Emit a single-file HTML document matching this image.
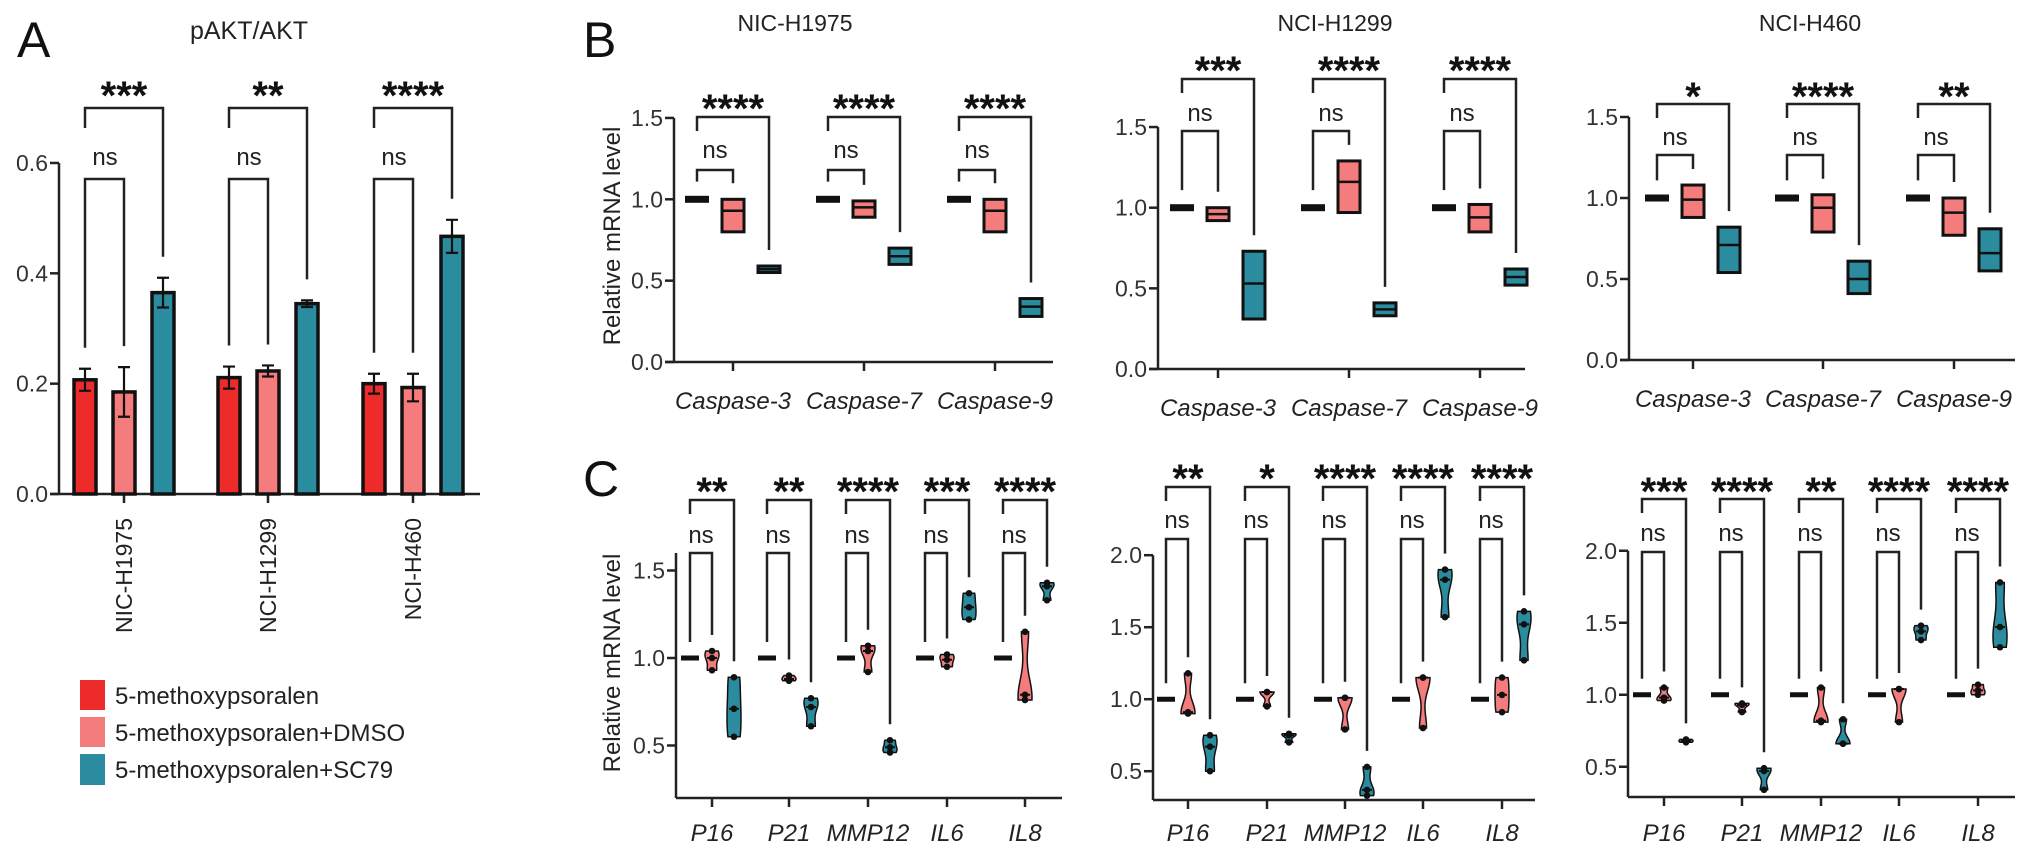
<!DOCTYPE html>
<html><head><meta charset="utf-8">
<style>
html,body{margin:0;padding:0;background:#fff;}
svg{display:block;font-family:"Liberation Sans",Arial,sans-serif;}
</style></head>
<body>
<svg id="fig" width="2032" height="854" viewBox="0 0 2032 854" xmlns="http://www.w3.org/2000/svg">
<rect x="0" y="0" width="2032" height="854" fill="#fff"/>
<text x="17" y="57" font-size="50" fill="#111">A</text>
<text x="583" y="57" font-size="50" fill="#111">B</text>
<text x="583" y="496" font-size="50" fill="#111">C</text>
<text x="249" y="39" font-size="25" fill="#222" text-anchor="middle">pAKT/AKT</text>
<g>
<rect x="80" y="680" width="25" height="30" fill="#ee2b2b"/>
<text x="115" y="704" font-size="24" fill="#222">5-methoxypsoralen</text>
<rect x="80" y="717" width="25" height="30" fill="#f47c7c"/>
<text x="115" y="741" font-size="24" fill="#222">5-methoxypsoralen+DMSO</text>
<rect x="80" y="754" width="25" height="31" fill="#2a8c9e"/>
<text x="115" y="778" font-size="24" fill="#222">5-methoxypsoralen+SC79</text>
</g>
</svg>
<script>
// ---------- Panel A data ----------
const aGroups = ['NIC-H1975','NCI-H1299','NCI-H460'];
const aMeans5MOP = [0.207, 0.211, 0.200];
const aMeansDMSO = [0.185, 0.223, 0.193];
const aMeansSC79 = [0.365, 0.345, 0.467];
const aErr5MOP = [0.020, 0.020, 0.018];
const aErrDMSO = [0.045, 0.010, 0.025];
const aErrSC79 = [0.027, 0.006, 0.030];
const aSig = ['***','**','****'];
const aTicks = [0.0, 0.2, 0.4, 0.6];
const aTickLabels = ['0.0','0.2','0.4','0.6'];

// ---------- Panel B data (min, mean, max) ----------
const bCats = ['Caspase-3','Caspase-7','Caspase-9'];
const bTicks = [0.0, 0.5, 1.0, 1.5];
const bTickLabels = ['0.0','0.5','1.0','1.5'];
const b1Ctrl = [[0.99,1.0,1.01],[0.99,1.0,1.01],[0.99,1.0,1.01]];
const b1DMSO = [[0.80,0.93,1.00],[0.89,0.95,0.99],[0.80,0.93,1.00]];
const b1SC79 = [[0.55,0.57,0.59],[0.60,0.65,0.70],[0.28,0.34,0.39]];
const b1Sig = ['****','****','****'];
const b2Ctrl = [[0.99,1.0,1.01],[0.99,1.0,1.01],[0.99,1.0,1.01]];
const b2DMSO = [[0.92,0.96,1.00],[0.97,1.16,1.29],[0.85,0.94,1.02]];
const b2SC79 = [[0.31,0.53,0.73],[0.33,0.37,0.41],[0.52,0.57,0.62]];
const b2Sig = ['***','****','****'];
const b3Ctrl = [[0.99,1.0,1.01],[0.99,1.0,1.01],[0.99,1.0,1.01]];
const b3DMSO = [[0.88,0.99,1.08],[0.79,0.94,1.02],[0.77,0.91,1.00]];
const b3SC79 = [[0.54,0.71,0.82],[0.41,0.50,0.61],[0.55,0.66,0.81]];
const b3Sig = ['*','****','**'];

// ---------- Panel C data (3 replicates each) ----------
const cCats = ['P16','P21','MMP12','IL6','IL8'];
const c1TickVals = [0.5, 1.0, 1.5];
const c1TickLabels = ['0.5','1.0','1.5'];
const c23TickVals = [0.5, 1.0, 1.5, 2.0];
const c23TickLabels = ['0.5','1.0','1.5','2.0'];
const cCtrl = [1.0, 1.0, 1.0];
const c1DMSO = [[0.93,1.00,1.04],[0.87,0.88,0.90],[0.92,1.04,1.07],[0.95,0.99,1.02],[0.76,0.79,1.15]];
const c1SC79 = [[0.55,0.71,0.89],[0.61,0.72,0.77],[0.46,0.49,0.53],[1.22,1.29,1.37],[1.33,1.41,1.43]];
const c1Sig = ['**','**','****','***','****'];
const c2DMSO = [[0.90,0.91,1.18],[0.95,1.05,1.05],[0.79,1.01,1.01],[0.80,1.15,1.15],[0.91,1.03,1.15]];
const c2SC79 = [[0.50,0.67,0.75],[0.70,0.75,0.76],[0.33,0.37,0.53],[1.57,1.83,1.90],[1.27,1.52,1.61]];
const c2Sig = ['**','*','****','****','****'];
const c3DMSO = [[0.96,0.98,1.05],[0.88,0.93,0.94],[0.81,0.82,1.05],[0.81,1.04,1.04],[1.00,1.03,1.07]];
const c3SC79 = [[0.67,0.68,0.69],[0.34,0.47,0.49],[0.66,0.66,0.83],[1.38,1.44,1.48],[1.33,1.47,1.78]];
const c3Sig = ['***','****','**','****','****'];

const NS = 'http://www.w3.org/2000/svg';
const svg = document.getElementById('fig');
const RED = '#ee2b2b', PINK = '#f47c7c', TEAL = '#2a8c9e', INK = '#222';
function mk(tag, a) { const e = document.createElementNS(NS, tag); for (const k in a) e.setAttribute(k, a[k]); svg.appendChild(e); return e; }
function txt(x, y, s, size, extra) { const t = mk('text', Object.assign({x:x, y:y, 'font-size':size, fill:INK}, extra || {})); t.textContent = s; return t; }

function bracket(x1, x2, top, e1, e2) {
  const p = mk('path', {d:`M${x1} ${e1} V${top} H${x2} V${e2}`, fill:'none', stroke:INK, 'stroke-width':2.5});
  
  
}
function stars(x, cy, s) {
  const t = txt(x, cy + 22, s, 40, {'text-anchor':'middle', 'font-weight':'bold', fill:'#111'});
  
  
}
function nsLabel(x, cy) {
  const t = txt(x, cy + 8, 'ns', 24, {'text-anchor':'middle'});
  
  
}
function yAxis(x, yTop, yBot, ticks, labels, yf, name) {
  const l = mk('line', {x1:x, y1:yTop, x2:x, y2:yBot, stroke:INK, 'stroke-width':2.5});
  
  
  ticks.forEach((v, i) => {
    const y = yf(v);
    const tk = mk('line', {x1:x - 9, y1:y, x2:x, y2:y, stroke:INK, 'stroke-width':2.5});
    
    
    const t = txt(x - 11, y + 8, labels[i], 23, {'text-anchor':'end', fill:'#333'});
    
    
  });
}
function xAxis(x1, x2, y, tickXs, name) {
  const l = mk('line', {x1:x1, y1:y, x2:x2, y2:y, stroke:INK, 'stroke-width':2.5});
  
  
  tickXs.forEach(tx => {
    const tk = mk('line', {x1:tx, y1:y, x2:tx, y2:y + 9, stroke:INK, 'stroke-width':2.5});
    
    
  });
}

// ================= Panel A =================
(function () {
  const ya = v => 494 - v * 551.7;
  const centers = [124, 268, 413];
  const offs = [-39, 0, 39];
  yAxis(59, ya(0.6), 494, aTicks, aTickLabels, ya, 'panel-a');
  xAxis(50, 480, 494, centers, 'panel-a');
  const series = [[aMeans5MOP, aErr5MOP, RED], [aMeansDMSO, aErrDMSO, PINK], [aMeansSC79, aErrSC79, TEAL]];
  centers.forEach((c, g) => {
    series.forEach((s, k) => {
      const m = s[0][g], e = s[1][g], x = c + offs[k];
      const r = mk('rect', {x:x - 11, y:ya(m), width:22, height:494 - ya(m), fill:s[2], stroke:'#111', 'stroke-width':3.5});
      
      
      const eb = mk('path', {d:`M${x} ${ya(m - e)} V${ya(m + e)} M${x - 6} ${ya(m - e)} H${x + 6} M${x - 6} ${ya(m + e)} H${x + 6}`, stroke:'#111', 'stroke-width':2.2, fill:'none'});
      
      
    });
    const top0 = ya(aMeans5MOP[g] + aErr5MOP[g]) - 21;
    const top1 = ya(aMeansDMSO[g] + aErrDMSO[g]) - 21;
    const top2 = ya(aMeansSC79[g] + aErrSC79[g]) - 21;
    bracket(c - 39, c + 39, 108, 128, top2);
    stars(c, 87, aSig[g]);
    bracket(c - 39, c, 179, top0, top1);
    nsLabel(c - 19, 157);
    const t = txt(c + 8, 518, aGroups[g], 23, {'text-anchor':'end', transform:`rotate(-90 ${c + 8} 518)`});
    
    
  });
})();

// ================= Panel B =================
function drawB(cfg, ctrl, dmso, sc79, sig) {
  const yf = v => cfg.y0 - v * cfg.ppu;
  yAxis(cfg.ax, yf(1.5), cfg.y0, bTicks, bTickLabels, yf, cfg.name);
  xAxis(cfg.ax - 9, cfg.xEnd, cfg.y0, cfg.cats, cfg.name);
  const tt = txt(cfg.titleX, 31, cfg.title, 23, {'text-anchor':'middle'});
  
  
  cfg.cats.forEach((c, i) => {
    const xs = [c - 36, c, c + 36];
    const cb = mk('rect', {x:xs[0] - 12, y:yf(1.0) - 3.5, width:24, height:7, fill:'#111'});
    
    
    [[dmso[i], PINK, xs[1]], [sc79[i], TEAL, xs[2]]].forEach(([d, col, x]) => {
      const r = mk('rect', {x:x - 11, y:yf(d[2]), width:22, height:Math.max(yf(d[0]) - yf(d[2]), 3), fill:col, stroke:'#111', 'stroke-width':3});
      
      
      const ml = mk('line', {x1:x - 11, y1:yf(d[1]), x2:x + 11, y2:yf(d[1]), stroke:'#111', 'stroke-width':2.5});
      
      
    });
    bracket(xs[0], xs[2], cfg.outerTop, cfg.outerTop + 14, yf(sc79[i][2]) - 16);
    stars(c, cfg.starsY, sig[i]);
    bracket(xs[0], xs[1], cfg.nsTop, yf(ctrl[i][2]) - 16, yf(dmso[i][2]) - 16);
    nsLabel(c - 18, cfg.nsY);
    const xl = txt(c, cfg.y0 + 47, bCats[i], 24, {'text-anchor':'middle', 'font-style':'italic'});
    
    
  });
}
drawB({name:'b-h1975', ax:674, y0:362, ppu:162.7, xEnd:1053, cats:[733,864,995], starsY:100, outerTop:117, nsY:150, nsTop:170, title:'NIC-H1975', titleX:795}, b1Ctrl, b1DMSO, b1SC79, b1Sig);
drawB({name:'b-h1299', ax:1158, y0:369, ppu:161.3, xEnd:1525, cats:[1218,1349,1480], starsY:62, outerTop:79, nsY:113, nsTop:131, title:'NCI-H1299', titleX:1335}, b2Ctrl, b2DMSO, b2SC79, b2Sig);
drawB({name:'b-h460', ax:1629, y0:360, ppu:162, xEnd:2015, cats:[1693,1823,1954], starsY:88, outerTop:104, nsY:137, nsTop:155, title:'NCI-H460', titleX:1810}, b3Ctrl, b3DMSO, b3SC79, b3Sig);
(function () {
  const t = txt(612, 236, 'Relative mRNA level', 24, {'text-anchor':'middle', transform:'rotate(-90 612 236)', dy:8});
  
  
})();

// ================= Panel C =================
function violin(x, pts, col, yf) {
  const mn = Math.min(...pts), mx = Math.max(...pts);
  const bw = Math.max((mx - mn) * 0.28, 0.015);
  const N = 30, left = [], right = [], dens = [];
  let dmax = 0;
  for (let k = 0; k <= N; k++) {
    const v = mn + (mx - mn) * k / N;
    let d = 0; pts.forEach(p => { d += Math.exp(-0.5 * ((v - p) / bw) ** 2); });
    dens.push([v, d]); if (d > dmax) dmax = d;
  }
  dens.forEach(([v, d]) => { const w = 7 * d / dmax; left.push(`${x - w},${yf(v)}`); right.unshift(`${x + w},${yf(v)}`); });
  const pg = mk('polygon', {points:left.concat(right).join(' '), fill:col, stroke:'#111', 'stroke-width':1.5});
  
  
  const sorted = pts.slice().sort((a, b) => a - b);
  const ml = mk('line', {x1:x - 5, y1:yf(sorted[1]), x2:x + 5, y2:yf(sorted[1]), stroke:'#111', 'stroke-width':2});
  
  
  pts.forEach(p => {
    const c = mk('circle', {cx:x, cy:yf(p), r:3.3, fill:'#111'});
    
    
  });
}
function drawC(cfg, dmso, sc79, sig, ticks, labels) {
  const yf = v => cfg.yb - (v - cfg.v0) * cfg.ppu;
  yAxis(cfg.ax, yf(cfg.vTop), cfg.yb, ticks, labels, yf, cfg.name);
  xAxis(cfg.ax, cfg.xEnd, cfg.yb, cfg.cats, cfg.name);
  cfg.cats.forEach((c, i) => {
    const xs = [c - 22, c, c + 22];
    const cl = mk('line', {x1:xs[0] - 9, y1:yf(cCtrl[0]), x2:xs[0] + 9, y2:yf(cCtrl[0]), stroke:'#111', 'stroke-width':5});
    
    
    violin(xs[1], dmso[i], PINK, yf);
    violin(xs[2], sc79[i], TEAL, yf);
    bracket(xs[0], xs[2], cfg.outerTop, cfg.outerTop + 14, yf(Math.max(...sc79[i])) - 16);
    stars(c, cfg.starsY, sig[i]);
    bracket(xs[0], xs[1], cfg.nsTop, yf(Math.max(...cCtrl)) - 16, yf(Math.max(...dmso[i])) - 16);
    nsLabel(c - 11, cfg.nsY);
    const xl = txt(c, 841, cCats[i], 24, {'text-anchor':'middle', 'font-style':'italic'});
    
    
  });
}
drawC({name:'c-h1975', ax:676, yb:798, v0:0.2, ppu:175, vTop:1.6, xEnd:1062, cats:[712,789,868,947,1025], starsY:483, outerTop:500, nsY:535, nsTop:553}, c1DMSO, c1SC79, c1Sig, c1TickVals, c1TickLabels);
drawC({name:'c-h1299', ax:1153, yb:800, v0:0.30, ppu:144, vTop:2.0, xEnd:1535, cats:[1188,1267,1345,1423,1502], starsY:470, outerTop:487, nsY:520, nsTop:539}, c2DMSO, c2SC79, c2Sig, c23TickVals, c23TickLabels);
drawC({name:'c-h460', ax:1628, yb:797, v0:0.29, ppu:144, vTop:2.0, xEnd:2015, cats:[1664,1742,1821,1899,1978], starsY:483, outerTop:499, nsY:533, nsTop:552}, c3DMSO, c3SC79, c3Sig, c23TickVals, c23TickLabels);
(function () {
  const t = txt(612, 663, 'Relative mRNA level', 24, {'text-anchor':'middle', transform:'rotate(-90 612 663)', dy:8});
  
  
})();
</script>
</body></html>
